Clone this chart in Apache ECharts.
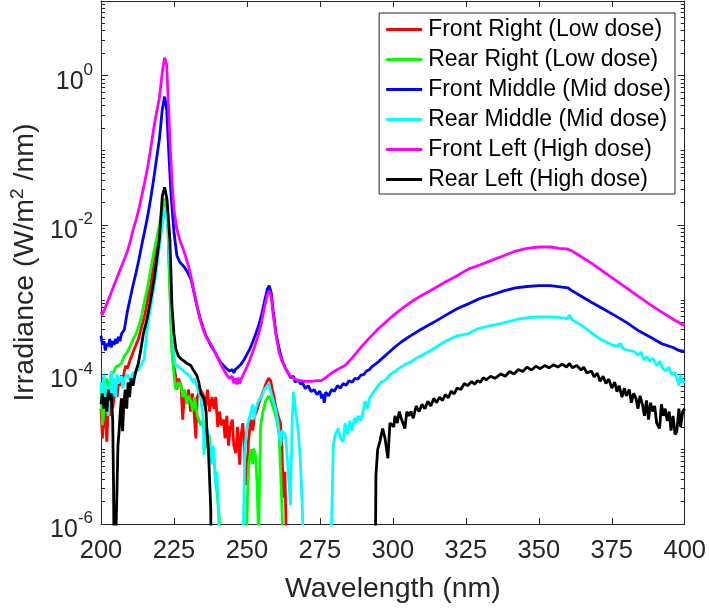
<!DOCTYPE html>
<html><head><meta charset="utf-8">
<script src="https://cdn.jsdelivr.net/npm/echarts@6/dist/echarts.min.js"></script>
<style>html,body{margin:0;padding:0;background:#fff}#c{width:709px;height:609px}</style>
</head><body><div id="c"></div>
<script>
// Wavelength (nm), irradiance (W/m^2/nm) pairs
const frontRight = [[200,3.5e-5],[200.5,1.4e-5],[201,5.0e-5],[201.5,2.5e-5],[202,1.26e-5],[202.5,4.0e-5],[203,2.8e-5],[203.5,5.0e-5],[204,3.5e-5],[204.5,4.8e-5],[205,6.3e-5],[205.5,5.0e-5],[206,7.9e-5],[206.5,7.1e-5],[207,9.8e-5],[207.5,8.3e-5],[208,1.12e-4],[208.5,1.32e-4],[209,1.2e-4],[210,1.58e-4],[211,2.0e-4],[212,2.5e-4],[212.5,2.8e-4],[213,3.16e-4],[214,4.5e-4],[215,6.3e-4],[216,1.0e-3],[217,1.58e-3],[218,2.8e-3],[219,5.0e-3],[220,8.9e-3],[221,1.58e-2],[221.8,2.24e-2],[222.5,2.0e-2],[223,7.9e-3],[223.6,1.58e-3],[224.3,2.5e-4],[225,1.26e-4],[225.5,1.0e-4],[226,6.3e-5],[226.5,8.9e-5],[227.4,7.1e-5],[228,2.5e-5],[228.5,5.0e-5],[229.4,4.8e-5],[230,6.3e-5],[230.7,3.2e-5],[231.3,5.6e-5],[231.8,3.5e-5],[232.5,1.4e-5],[233,5.0e-5],[234,6.3e-5],[235.2,5.2e-5],[235.8,3.5e-5],[236.5,6.3e-5],[237.2,3.2e-5],[238,5.0e-5],[238.7,3.5e-5],[239.3,5.0e-5],[240,2.0e-5],[240.6,3.2e-5],[241.2,2.1e-5],[242,2.5e-5],[242.5,1.4e-5],[243.1,2.8e-5],[243.7,1.12e-5],[244.3,2.0e-5],[245,2.5e-5],[245.5,1.12e-5],[246.2,8.9e-6],[246.8,2.0e-5],[247.5,6.2e-6],[248,1.58e-5],[248.6,2.24e-5],[249.3,7.9e-6],[249.9,3.3e-6],[250.5,1.26e-5],[251.3,2.5e-5],[252,1.78e-5],[252.6,2.8e-5],[253.3,3.2e-5],[254,4.0e-5],[254.7,4.8e-5],[255.3,5.6e-5],[256,6.6e-5],[256.8,8.1e-5],[257.5,8.9e-5],[258.1,8.3e-5],[258.7,6.3e-5],[259.3,5.0e-5],[260,3.5e-5],[260.7,2.8e-5],[261.5,2.24e-5],[262,1.0e-5],[262.5,2.24e-6],[263,5.0e-6],[263.5,6.3e-7],[264,1e-7]];

const rearRight = [[200,6.5e-5],[200.5,2.1e-5],[201,3.2e-5],[201.5,6.3e-5],[202,8.9e-5],[202.5,4.5e-5],[203,7.9e-5],[203.5,1.0e-4],[204,1.05e-4],[204.5,1.1e-4],[205,1.26e-4],[206,1.32e-4],[207,1.41e-4],[208,1.78e-4],[209,2.0e-4],[210,2.4e-4],[211,3.0e-4],[212,3.5e-4],[213,4.5e-4],[214,6.3e-4],[215,1.0e-3],[216,1.51e-3],[217,2.5e-3],[218,4.2e-3],[219,6.3e-3],[220,1.0e-2],[221,1.58e-2],[221.8,2.24e-2],[222.5,1.9e-2],[223,7.9e-3],[223.6,1.26e-3],[224.3,2.0e-4],[225,1.0e-4],[225.6,6.3e-5],[226.5,7.9e-5],[227.4,7.1e-5],[228,5.0e-5],[228.7,6.3e-5],[229.4,4.0e-5],[230,5.2e-5],[230.8,4.4e-5],[231.5,3.2e-5],[232,5.0e-5],[233,2.8e-5],[234.2,2.1e-5],[235,2.5e-5],[235.6,1.4e-5],[236.3,1.02e-5],[237,1.58e-5],[237.7,7.9e-6],[238.7,7.6e-6],[239.3,4.0e-6],[239.9,2.24e-6],[240.5,1.26e-6],[241,3.2e-7],[241.5,1e-7],[249.5,1e-7],[250.2,2.5e-6],[250.6,6.2e-6],[251.3,1.0e-5],[252,6.3e-6],[252.3,1.02e-5],[253,8.3e-6],[253.5,3.2e-6],[254,6.3e-7],[254.3,3.2e-6],[254.7,2.1e-5],[255.5,3.2e-5],[256.4,4.4e-5],[257.4,5.2e-5],[258.2,4.5e-5],[259.1,3.5e-5],[260.2,2.5e-5],[261,1.58e-5],[261.5,5.6e-6],[262,1.58e-6],[262.5,3.2e-7],[263,1e-7]];

const frontMiddle = [[200,3.3e-4],[200.5,2.5e-4],[201,2.8e-4],[201.5,2.1e-4],[202,2.6e-4],[202.5,2.4e-4],[203,3.0e-4],[203.5,2.3e-4],[204,2.8e-4],[204.5,2.5e-4],[205,3.0e-4],[205.5,2.6e-4],[206,3.2e-4],[206.5,2.8e-4],[207,3.5e-4],[208,4.0e-4],[209,6.9e-4],[210,1.05e-3],[211,1.58e-3],[212,2.3e-3],[213,3.5e-3],[214,5.5e-3],[215,8.5e-3],[216,1.32e-2],[217,2.24e-2],[218,4.0e-2],[219,7.6e-2],[220,0.141],[221,0.355],[221.8,0.525],[222.5,0.355],[223.3,8.3e-2],[224,2.5e-2],[225,8.1e-3],[226,3.9e-3],[227,3.2e-3],[228.4,2.8e-3],[229.5,2.4e-3],[230.8,1.9e-3],[232,1.2e-3],[233,7.9e-4],[234,5.6e-4],[235,4.2e-4],[236,3.3e-4],[237,2.75e-4],[238,2.3e-4],[239,2.0e-4],[240,1.7e-4],[241,1.45e-4],[242,1.32e-4],[243,1.2e-4],[244,1.12e-4],[245,1.17e-4],[245.5,1.05e-4],[246,1.17e-4],[247,1.26e-4],[248,1.38e-4],[249,1.58e-4],[250,1.86e-4],[251,2.2e-4],[252,2.75e-4],[253,3.5e-4],[254,4.5e-4],[255,6.3e-4],[256,9.5e-4],[257,1.38e-3],[257.6,1.55e-3],[258.3,1.26e-3],[259,7.1e-4],[260,3.5e-4],[261,2.24e-4],[262,1.58e-4],[263,1.26e-4],[264,1.07e-4],[265,9.1e-5],[266,9.5e-5],[266.5,7.9e-5],[267.5,8.5e-5],[268.5,7.4e-5],[269,7.9e-5],[270,6.5e-5],[271,7.1e-5],[272,5.9e-5],[273,6.3e-5],[274,5.4e-5],[275,6.0e-5],[275.6,4.8e-5],[276,5.5e-5],[276.5,4.2e-5],[277,5.8e-5],[278,5.2e-5],[279,6.3e-5],[280,6.0e-5],[281,7.1e-5],[282,6.6e-5],[283,7.6e-5],[284,7.2e-5],[285,8.3e-5],[286,7.9e-5],[287,8.9e-5],[288,8.7e-5],[289,9.8e-5],[290,1.0e-4],[291,1.12e-4],[292,1.17e-4],[293,1.29e-4],[294,1.38e-4],[295,1.48e-4],[297,1.74e-4],[299,2.04e-4],[300.7,2.34e-4],[303,2.75e-4],[306,3.3e-4],[310,4.1e-4],[314,5.0e-4],[318,6.2e-4],[322,7.6e-4],[326,8.9e-4],[330,1.05e-3],[334,1.17e-3],[338,1.32e-3],[342,1.45e-3],[346,1.51e-3],[350,1.55e-3],[354,1.55e-3],[358,1.48e-3],[360,1.45e-3],[361,1.35e-3],[364,1.15e-3],[368,9.3e-4],[372,7.6e-4],[376,6.2e-4],[380,5.0e-4],[384,3.9e-4],[388,3.2e-4],[392,2.6e-4],[396,2.3e-4],[398,2.1e-4],[400,2.04e-4]];

const rearMiddle = [[200,7.9e-5],[200.5,4.0e-5],[201,1.0e-4],[201.5,4.5e-5],[202,7.1e-5],[202.5,2.8e-5],[203,6.3e-5],[203.5,1.12e-4],[204,5.6e-5],[204.5,8.9e-5],[205,5.0e-5],[205.5,1.0e-4],[206,7.6e-5],[207,9.5e-5],[207.5,6.6e-5],[208,8.9e-5],[209,1.0e-4],[210,8.3e-5],[211,1.05e-4],[212,1.1e-4],[213,1.2e-4],[214,1.41e-4],[214.8,1.62e-4],[215.8,4.1e-4],[217,7.9e-4],[218.2,1.55e-3],[219,2.5e-3],[220,5.2e-3],[221,1.0e-2],[221.8,1.62e-2],[222.5,1.41e-2],[223,8.1e-3],[224,1.41e-3],[224.5,4.0e-4],[225.3,1.41e-4],[226,1.32e-4],[227.4,1.2e-4],[228,1.26e-4],[229,1.05e-4],[230,1.0e-4],[230.8,8.9e-5],[231.5,7.9e-5],[232,8.9e-5],[233,6.6e-5],[234.2,4.8e-5],[235,2.5e-5],[235.3,8.3e-6],[236,2.0e-5],[236.5,1.74e-5],[237,1.26e-5],[238,6.3e-6],[238.5,1.12e-5],[239.2,3.3e-6],[239.7,5.0e-6],[240.3,1.2e-6],[240.8,1e-7],[248.2,1e-7],[248.7,6.3e-7],[249.3,1.0e-5],[250,2.0e-5],[251,2.8e-5],[252,4.0e-5],[252.5,2.5e-5],[253,3.5e-5],[254,4.5e-5],[255,5.0e-5],[256,6.3e-5],[257,7.1e-5],[257.5,7.6e-5],[258.3,5.6e-5],[259,4.5e-5],[259.8,3.5e-5],[260.5,2.5e-5],[261.5,1.12e-5],[262,1.78e-5],[263.2,1.55e-5],[264,6.3e-6],[264.9,1.78e-6],[265.5,2.5e-5],[266,5.9e-5],[266.7,3.2e-5],[267.5,1.9e-5],[268.3,6.9e-6],[269,1.58e-6],[269.6,1e-7],[278.5,1e-7],[279,1.0e-6],[279.6,1.12e-5],[280.3,1.58e-5],[281.3,1.9e-5],[282,1.41e-5],[283,1.26e-5],[283.6,2.24e-5],[284.5,1.58e-5],[285.2,2.4e-5],[286,1.78e-5],[286.8,2.6e-5],[287.5,2.24e-5],[288.1,2.8e-5],[289,2.4e-5],[290,3.5e-5],[290.5,4.4e-5],[291.3,3.5e-5],[292,4.8e-5],[293,5.6e-5],[294,6.3e-5],[295,7.1e-5],[296,7.9e-5],[297,8.3e-5],[298,8.9e-5],[299,1.0e-4],[300.7,1.1e-4],[302,1.2e-4],[304,1.35e-4],[306.2,1.48e-4],[308,1.66e-4],[310,1.82e-4],[313,2.1e-4],[317.7,2.75e-4],[322,3.3e-4],[325.6,3.5e-4],[329,4.1e-4],[333,4.5e-4],[337,4.8e-4],[342.7,5.5e-4],[346,5.8e-4],[350,5.9e-4],[354,5.9e-4],[357,5.8e-4],[359.7,5.6e-4],[360.5,6.2e-4],[361.5,5.4e-4],[363,5.0e-4],[366,4.2e-4],[368,3.6e-4],[371,3.0e-4],[373,2.75e-4],[375,2.5e-4],[377,2.4e-4],[378,2.6e-4],[379,2.2e-4],[381,2.1e-4],[382.5,2.04e-4],[384,1.82e-4],[385,2.0e-4],[386,1.58e-4],[387,1.74e-4],[388,1.51e-4],[389,1.66e-4],[390.4,1.32e-4],[391.5,1.51e-4],[392.5,1.2e-4],[393.5,1.12e-4],[394.5,1.26e-4],[395.5,1.0e-4],[396.5,1.07e-4],[397.3,8.9e-5],[398,7.1e-5],[398.5,1.0e-4],[399.2,7.9e-5],[400,8.1e-5]];

const frontLeft = [[200,6.9e-4],[200.5,6.3e-4],[201,7.1e-4],[202,8.9e-4],[203,1.12e-3],[204,1.41e-3],[205,1.78e-3],[206,2.24e-3],[207,2.8e-3],[208,3.5e-3],[209,4.4e-3],[210,6.0e-3],[211,8.7e-3],[212,1.17e-2],[213,1.66e-2],[214,2.5e-2],[215,3.8e-2],[216,6.0e-2],[217,0.105],[218,0.19],[219,0.32],[220,0.5],[221,1.12],[221.8,1.74],[222.5,1.41],[223,0.5],[223.6,0.14],[224.3,0.04],[225,0.016],[226,8.9e-3],[227,6.3e-3],[228,5.0e-3],[229,3.8e-3],[230,2.8e-3],[231,1.9e-3],[232,1.2e-3],[233,7.9e-4],[234,5.4e-4],[235,4.0e-4],[236,3.2e-4],[237,2.8e-4],[238,2.4e-4],[239,2.0e-4],[240,1.66e-4],[241,1.38e-4],[242,1.17e-4],[243,1.0e-4],[244,8.9e-5],[245,9.5e-5],[245.5,7.6e-5],[246,8.9e-5],[246.5,7.4e-5],[247,9.1e-5],[247.5,7.6e-5],[248,8.7e-5],[249,1.05e-4],[250,1.26e-4],[251,1.58e-4],[252,2.0e-4],[253,2.6e-4],[254,3.5e-4],[255,5.0e-4],[256,7.9e-4],[257,1.17e-3],[257.6,1.32e-3],[258.3,1.12e-3],[259,6.3e-4],[260,3.3e-4],[261,2.0e-4],[262,1.51e-4],[263,1.26e-4],[264,1.07e-4],[265,9.5e-5],[266,8.9e-5],[267,8.5e-5],[268,8.3e-5],[270,8.1e-5],[272,8.1e-5],[274,8.3e-5],[275.5,8.3e-5],[277,9.1e-5],[279,1.05e-4],[281,1.17e-4],[283.6,1.32e-4],[286,1.66e-4],[289,2.3e-4],[292,3.1e-4],[295,4.1e-4],[298,5.2e-4],[301,6.6e-4],[304,8.1e-4],[307,9.8e-4],[310,1.15e-3],[314,1.41e-3],[318,1.74e-3],[322,2.1e-3],[326,2.6e-3],[330,2.95e-3],[334,3.4e-3],[338,3.9e-3],[342,4.5e-3],[346,4.9e-3],[350,5.1e-3],[354,5.1e-3],[357,4.9e-3],[359.5,4.8e-3],[360,4.9e-3],[361,4.6e-3],[364,3.9e-3],[368,3.1e-3],[372,2.4e-3],[376,1.86e-3],[380,1.45e-3],[384,1.12e-3],[388,8.7e-4],[392,6.9e-4],[396,5.5e-4],[400,4.5e-4]];

const rearLeft = [[200,4.0e-5],[200.5,5.6e-5],[201,3.5e-5],[201.5,5.0e-5],[202,3.2e-5],[202.5,6.3e-5],[203,4.5e-5],[203.5,5.6e-5],[204,2.5e-5],[204.3,3.2e-6],[204.6,1e-7],[205.2,1e-7],[205.5,3.2e-6],[205.8,1.12e-5],[206.2,1.74e-5],[206.6,3.2e-5],[207,4.8e-5],[207.4,1.74e-5],[207.8,4.0e-5],[208.3,6.3e-5],[208.8,3.5e-5],[209.3,7.9e-5],[209.8,5.0e-5],[210.3,8.9e-5],[211,7.1e-5],[211.4,8.9e-5],[212,1.12e-4],[212.8,1.41e-4],[213.7,2.24e-4],[214.5,3.5e-4],[215.8,5.6e-4],[217,1.0e-3],[218.2,1.9e-3],[219,3.2e-3],[220,6.5e-3],[221,2.45e-2],[221.8,3.2e-2],[222.6,2.24e-2],[223.6,6.5e-3],[224.3,8.3e-4],[225,3.5e-4],[225.6,2.24e-4],[226.5,1.78e-4],[227.4,1.62e-4],[228.5,1.51e-4],[229.5,1.41e-4],[230.8,1.32e-4],[231.8,1.12e-4],[232.8,9.8e-5],[233.5,7.9e-5],[234.2,5.6e-5],[235.2,4.8e-5],[236,3.2e-5],[236.3,1.74e-5],[236.8,1.0e-5],[237.3,3.2e-6],[237.6,1.58e-6],[237.9,1e-7],[293.9,1e-7],[294.2,4.5e-6],[294.8,1.0e-5],[295.6,1.29e-5],[296.5,1.9e-5],[297.3,1.41e-5],[298.3,7.6e-6],[299,2.24e-5],[299.5,2.34e-5],[300.3,2.0e-5],[300.7,2.8e-5],[301.5,2.24e-5],[302.2,3.2e-5],[303,2.5e-5],[304.1,1.9e-5],[304.8,3.2e-5],[305.5,2.8e-5],[306.2,3.2e-5],[307,2.6e-5],[308,3.8e-5],[309,3.2e-5],[310,4.0e-5],[311,3.5e-5],[312,4.4e-5],[313,3.8e-5],[314,4.8e-5],[315,4.2e-5],[316,5.0e-5],[317,4.5e-5],[318,5.4e-5],[319,4.9e-5],[320,6.0e-5],[321,5.5e-5],[322,6.6e-5],[323.3,6.3e-5],[324.5,7.6e-5],[325.6,7.1e-5],[327,8.1e-5],[328,7.4e-5],[329,8.3e-5],[330,7.9e-5],[331,9.1e-5],[332,8.5e-5],[333.5,9.5e-5],[335,8.9e-5],[337,1.02e-4],[338.5,9.5e-5],[340,1.1e-4],[341.5,1.02e-4],[343,1.17e-4],[344.5,1.1e-4],[346,1.26e-4],[347.5,1.15e-4],[349,1.29e-4],[350.5,1.2e-4],[352,1.32e-4],[353.5,1.23e-4],[355,1.35e-4],[356.5,1.26e-4],[358,1.38e-4],[359.5,1.26e-4],[360.5,1.41e-4],[361.5,1.23e-4],[363,1.32e-4],[364.5,1.15e-4],[365.4,1.26e-4],[366.5,1.05e-4],[368,1.12e-4],[369,9.3e-5],[370,1.05e-4],[371,8.1e-5],[372,9.5e-5],[373,7.6e-5],[374,8.7e-5],[375,6.6e-5],[376,7.9e-5],[376.8,5.9e-5],[377.5,7.1e-5],[378.5,5.0e-5],[379.3,6.6e-5],[380,5.2e-5],[381,6.3e-5],[381.7,4.2e-5],[382.5,5.6e-5],[383.3,4.8e-5],[384,3.5e-5],[384.7,5.2e-5],[385.5,4.0e-5],[386.2,2.8e-5],[386.9,4.5e-5],[387.6,2.5e-5],[388.3,4.2e-5],[389,3.2e-5],[389.7,3.8e-5],[390.4,2.24e-5],[391.4,1.9e-5],[392,4.0e-5],[392.7,2.8e-5],[393.3,3.5e-5],[394,2.4e-5],[394.7,3.2e-5],[395.3,1.78e-5],[396,2.8e-5],[396.7,1.58e-5],[397.3,1.74e-5],[398,3.5e-5],[398.6,2.0e-5],[399.3,3.2e-5],[400,3.5e-5]];

const seriesNames = ['Front Right (Low dose)','Rear Right (Low dose)','Front Middle (Mid dose)','Rear Middle (Mid dose)','Front Left (High dose)','Rear Left (High dose)'];
const seriesColors = ['#ff0000','#00ff00','#0000ff','#00ffff','#ff00ff','#000000'];
const seriesData = [frontRight, rearRight, frontMiddle, rearMiddle, frontLeft, rearLeft];

const xTicks = [200,225,250,275,300,325,350,375,400];
const yMajorTicks = [1e-6,1e-4,1e-2,1];
const yMajorLabels = ['{b|10}{s|-6}','{b|10}{s|-4}','{b|10}{s|-2}','{b|10}{s|0}'];
const yMinorTicks = [];
for (let d = -6; d <= 0; d++) for (let k = 1; k <= 9; k++) {
  if (k === 1 && d % 2 === 0) continue;
  yMinorTicks.push(+(k + 'e' + d));
}

const FONT = 'Liberation Sans, Arial, Helvetica, sans-serif';
const AX = '#262626';

const chart = echarts.init(document.getElementById('c'), null, {renderer: 'canvas'});

function yAx(pos, major, labels) {
  return {
    type: 'log', position: pos, min: 1e-6, max: 10, logBase: 10,
    axisLine: {show: major, onZero: false, lineStyle: {color: AX, width: 1}},
    axisTick: {show: true, inside: true, length: major ? 7 : 4, lineStyle: {color: AX, width: 1},
      customValues: major ? yMajorTicks : yMinorTicks},
    axisLabel: labels ? {
      show: true, margin: 8, color: AX, fontFamily: FONT,
      customValues: yMajorTicks,
      formatter: function (v) {
        const i = yMajorTicks.findIndex(t => Math.abs(Math.log10(t) - Math.log10(v)) < 1e-6);
        return i >= 0 ? yMajorLabels[i] : '';
      },
      rich: {
        b: {fontSize: 25, fontFamily: FONT, color: AX, padding: [12, 0, 0, 0]},
        s: {fontSize: 17, fontFamily: FONT, color: AX, padding: [0, 0, 11, 0]}
      }
    } : {show: false},
    splitLine: {show: false},
    minorTick: {show: false}, minorSplitLine: {show: false},
    name: labels ? 'Irradiance (W/m{sup|2} /nm)' : '',
    nameLocation: 'middle', nameGap: 60,
    nameTextStyle: labels ? {fontSize: 28.5, fontFamily: FONT, color: AX,
      rich: {sup: {fontSize: 19, fontFamily: FONT, color: AX, padding: [0, 0, 13, 0]}}} : {}
  };
}

chart.setOption({
  animation: false,
  backgroundColor: '#ffffff',
  grid: {left: 101, right: 22, top: 1, bottom: 83, containLabel: false},
  legend: {
    show: true, orient: 'vertical', right: 34, top: 13,
    data: seriesNames.map(n => ({name: n, icon: 'rect'})),
    backgroundColor: '#ffffff', borderColor: AX, borderWidth: 1,
    padding: [5, 4, 3, 7], itemGap: 7, itemWidth: 36, itemHeight: 3,
    textStyle: {fontSize: 23, fontFamily: FONT, color: '#000', lineHeight: 23, padding: [0, 0, 0, 1]},
    selectedMode: false
  },
  xAxis: [{
    type: 'value', position: 'bottom', min: 200, max: 400, interval: 25,
    axisLine: {show: true, onZero: false, lineStyle: {color: AX, width: 1}},
    axisTick: {show: true, inside: true, length: 6, lineStyle: {color: AX}},
    axisLabel: {show: true, fontSize: 25.5, fontFamily: FONT, color: AX, margin: 14,
      customValues: xTicks},
    splitLine: {show: false},
    name: 'Wavelength (nm)', nameLocation: 'middle', nameGap: 51,
    nameTextStyle: {fontSize: 28.5, fontFamily: FONT, color: AX}
  }, {
    type: 'value', position: 'top', min: 200, max: 400, interval: 25,
    axisLine: {show: true, onZero: false, lineStyle: {color: AX, width: 1}},
    axisTick: {show: true, inside: true, length: 6, lineStyle: {color: AX}},
    axisLabel: {show: false}, splitLine: {show: false}
  }],
  yAxis: [yAx('left', true, true), yAx('left', false, false), yAx('right', true, false), yAx('right', false, false)],
  series: seriesData.map((d, i) => ({
    name: seriesNames[i], type: 'line', data: d, xAxisIndex: 0, yAxisIndex: 0,
    symbol: 'none', showSymbol: false, clip: true,
    lineStyle: {color: seriesColors[i], width: 2.8}, itemStyle: {color: seriesColors[i]},
    emphasis: {disabled: true}
  }))
});
</script></body></html>
